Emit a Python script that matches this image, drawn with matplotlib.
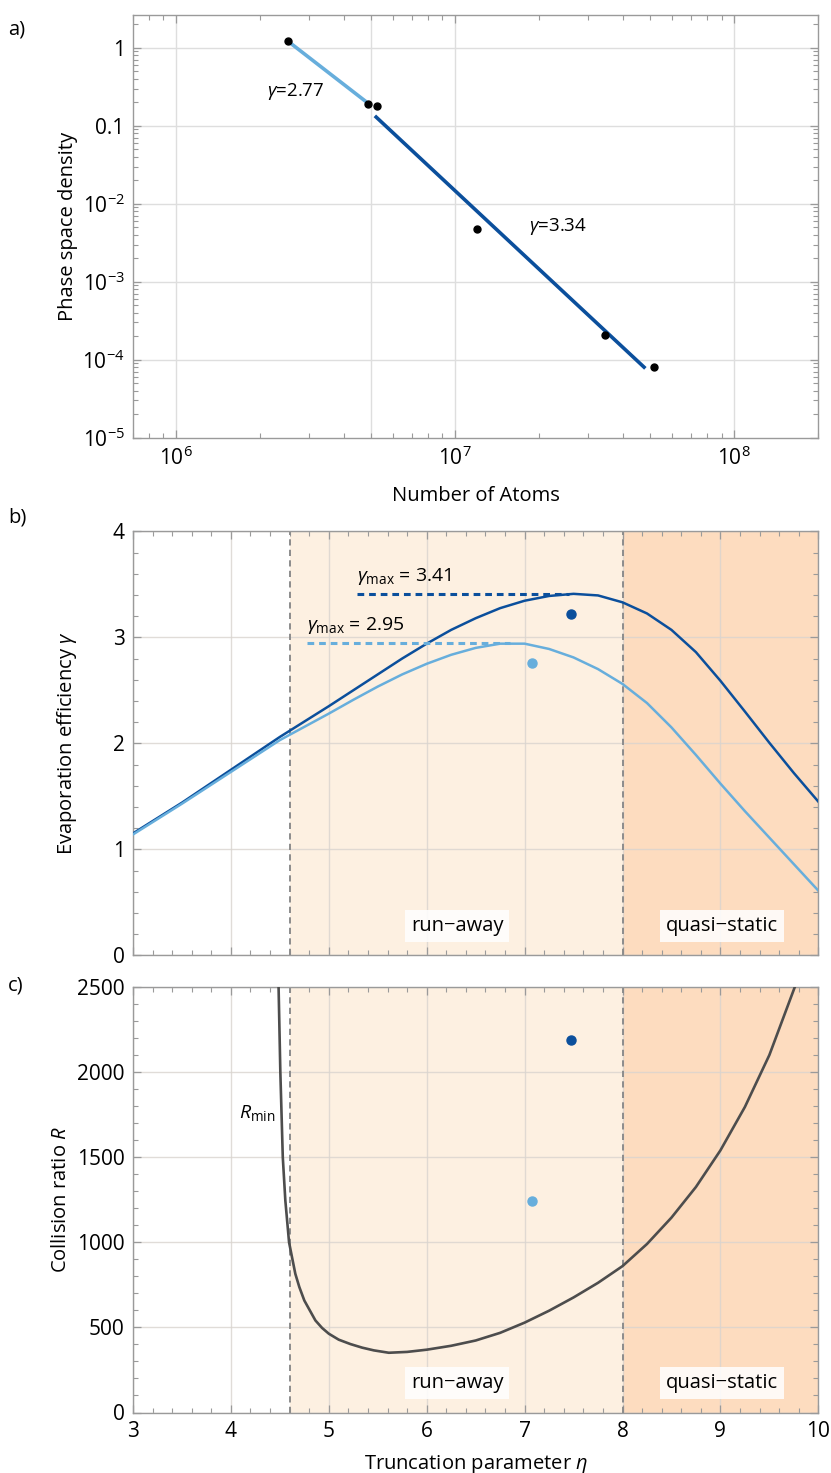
import numpy as np
import matplotlib
matplotlib.use('Agg')
import matplotlib.pyplot as plt
from matplotlib.ticker import FixedLocator, FixedFormatter, MultipleLocator, LogLocator, NullFormatter

plt.rcParams['font.family'] = ['Open Sans', 'DejaVu Sans']
plt.rcParams['mathtext.fontset'] = 'custom'
plt.rcParams['mathtext.rm'] = 'Open Sans'
plt.rcParams['mathtext.it'] = 'Open Sans:italic'
plt.rcParams['mathtext.bf'] = 'Open Sans:bold'
plt.rcParams['axes.unicode_minus'] = True

# ---- panel a: phase space density vs atom number
atoms = [2.52e6, 4.88e6, 5.25e6, 1.2e7, 3.44e7, 5.16e7]
psd = [1.22, 0.191, 0.178, 4.74e-3, 2.09e-4, 8.1e-5]
fit_gamma = [2.77, 3.34]
fit_points = [[0, 1], [2, 3, 4, 5]]          # which points belong to each fit
fit_range = [[2.55e6, 4.8e6], [5.15e6, 4.8e7]]
fit_label_pos = [[2.12e6, 0.273], [1.84e7, 5.07e-3]]

# ---- panel b: evaporation efficiency vs truncation parameter
eta_g = [3.0, 3.5, 4.0, 4.5, 5.0, 5.25, 5.5, 5.75, 6.0, 6.25, 6.5, 6.75, 7.0, 7.25,
         7.5, 7.75, 8.0, 8.25, 8.5, 8.75, 9.0, 9.25, 9.5, 9.75, 10.0]
gamma_dark = [1.15, 1.44, 1.75, 2.06, 2.35, 2.50, 2.65, 2.80, 2.94, 3.07, 3.18, 3.275, 3.345, 3.39,
              3.41, 3.395, 3.33, 3.225, 3.07, 2.86, 2.59, 2.30, 2.005, 1.72, 1.45]
gamma_light = [1.14, 1.43, 1.73, 2.03, 2.28, 2.41, 2.535, 2.65, 2.75, 2.835, 2.90, 2.94, 2.94, 2.89,
               2.81, 2.70, 2.56, 2.38, 2.15, 1.89, 1.62, 1.36, 1.11, 0.86, 0.61]
gamma_max = [3.41, 2.95]
gamma_max_eta = [7.45, 6.85]
gamma_max_start = [5.29, 4.78]
meas_eta = [7.47, 7.08]
meas_gamma = [3.22, 2.76]

# ---- panel c: collision ratio
eta_r = [4.487, 4.505, 4.53, 4.556, 4.594, 4.658, 4.699, 4.75, 4.863, 4.931, 5.0, 5.101, 5.221,
         5.341, 5.46, 5.613, 5.8, 6.0, 6.25, 6.5, 6.75, 7.0, 7.25, 7.5, 7.75, 8.0, 8.25, 8.5,
         8.75, 9.0, 9.25, 9.5, 9.76]
r_min = [2500, 2000, 1500, 1246, 1000, 815, 737, 658, 541, 497, 463, 428, 402,
         381, 365, 351, 356, 369, 392, 423, 468, 528, 598, 676, 762, 860, 990, 1145,
         1325, 1540, 1795, 2100, 2500]
meas_r = [2188, 1241]

eta_runaway = 4.6
eta_quasi = 8.0

dark = '#0b4f9c'
light = '#67aedc'
grey_line = '#4d4d4d'
c_run = '#fdf0e1'
c_quasi = '#fddcbf'
frame = '#9a9a9a'
gridc = '#dedede'

W, H = 831, 1473
fig = plt.figure(figsize=(W / 100, H / 100), dpi=100)
left = 133 / W
width = (818.3 - 133) / W


def box(top, bottom):
    return [left, 1 - bottom / H, width, (bottom - top) / H]


def style(ax):
    for s in ax.spines.values():
        s.set_color(frame)
        s.set_linewidth(1.0)
    ax.tick_params(which='both', direction='in', top=True, right=True, color=frame,
                   labelsize=15, pad=6)
    ax.tick_params(which='major', length=6, width=0.9)
    ax.tick_params(which='minor', length=3.5, width=0.8)


ax1 = fig.add_axes(box(15, 437.7))
ax2 = fig.add_axes(box(531.3, 955.3))
ax3 = fig.add_axes(box(987, 1412.5))

# panel a
ax1.set_xscale('log')
ax1.set_yscale('log')
ax1.set_xlim(7e5, 2e8)
ax1.set_ylim(1e-5, 2.63)
lx = np.log10(atoms)
ly = np.log10(psd)
for k, (g, idx, rng) in enumerate(zip(fit_gamma, fit_points, fit_range)):
    mx = lx[idx].mean()
    my = ly[idx].mean()
    xs = np.array(rng)
    ys = 10 ** (my - g * (np.log10(xs) - mx))
    ax1.plot(xs, ys, color=[light, dark][k], lw=2.6, solid_capstyle='butt', zorder=3)
    ax1.text(fit_label_pos[k][0], fit_label_pos[k][1], r'$\gamma$=%.2f' % g,
             fontsize=13.5, va='center', ha='left', zorder=4)
ax1.plot(atoms, psd, 'o', color='black', ms=5, zorder=5)
for v in [1e6, 5e6, 1e7, 1e8]:
    ax1.axvline(v, color=gridc, lw=1, zorder=0)
for v in [1, 0.1, 1e-2, 1e-3, 1e-4]:
    ax1.axhline(v, color=gridc, lw=1, zorder=0)
ax1.xaxis.set_major_locator(FixedLocator([1e6, 1e7, 1e8]))
ax1.xaxis.set_major_formatter(FixedFormatter([r'$10^{6}$', r'$10^{7}$', r'$10^{8}$']))
ax1.xaxis.set_minor_locator(LogLocator(base=10, subs=np.arange(2, 10), numticks=20))
ax1.xaxis.set_minor_formatter(NullFormatter())
yt = [1e-5, 1e-4, 1e-3, 1e-2, 0.1, 1]
ax1.yaxis.set_major_locator(FixedLocator(yt))
ax1.yaxis.set_major_formatter(FixedFormatter([r'$10^{-5}$', r'$10^{-4}$', r'$10^{-3}$',
                                              r'$10^{-2}$', '0.1', '1']))
ax1.yaxis.set_minor_locator(LogLocator(base=10, subs=np.arange(2, 10), numticks=20))
ax1.yaxis.set_minor_formatter(NullFormatter())
style(ax1)
ax1.set_xlabel('Number of Atoms', fontsize=14.5, labelpad=12)
ax1.set_ylabel('Phase space density', fontsize=14.5)
ax1.yaxis.set_label_coords(-0.08, 0.5)

# panels b and c: shared styling
for ax in (ax2, ax3):
    ax.set_xlim(3, 10)
    ax.axvspan(eta_runaway, eta_quasi, color=c_run, lw=0, zorder=0)
    ax.axvspan(eta_quasi, 10, color=c_quasi, lw=0, zorder=0)
    ax.set_axisbelow(True)
    ax.grid(True, which='major', color='#d9d4cf', lw=1, alpha=0.8)
    for v in (eta_runaway, eta_quasi):
        ax.axvline(v, color='#8c8c8c', lw=1.4, ls=(0, (3.2, 2.2)), zorder=2)
    ax.xaxis.set_major_locator(MultipleLocator(1))
    ax.xaxis.set_minor_locator(MultipleLocator(0.2))
    ax.text(6.31, 0.07, 'run\u2212away', transform=ax.get_xaxis_transform(), ha='center',
            va='center', fontsize=14.5, zorder=4,
            bbox=dict(boxstyle='square,pad=0.3', fc='white', ec='none', alpha=0.85))
    ax.text(9.02, 0.07, 'quasi\u2212static', transform=ax.get_xaxis_transform(), ha='center',
            va='center', fontsize=14.5, zorder=4,
            bbox=dict(boxstyle='square,pad=0.3', fc='white', ec='none', alpha=0.85))
    style(ax)

# panel b
ax2.set_ylim(0, 4)
ax2.yaxis.set_major_locator(MultipleLocator(1))
ax2.yaxis.set_minor_locator(MultipleLocator(0.2))
ax2.plot(eta_g, gamma_dark, color=dark, lw=1.8, solid_joinstyle='round', zorder=3)
ax2.plot(eta_g, gamma_light, color=light, lw=1.8, solid_joinstyle='round', zorder=3)
for k in range(2):
    col = [dark, light][k]
    ax2.plot([gamma_max_start[k], gamma_max_eta[k]], [gamma_max[k], gamma_max[k]], color=col,
             lw=2.2, ls=(0, (2.2, 1.6)), zorder=3)
    ax2.text(gamma_max_start[k], gamma_max[k] + 0.16, r'$\gamma_{\rm max}$ = %.2f' % gamma_max[k],
             fontsize=14, ha='left', va='center', zorder=4)
ax2.plot(meas_eta[0], meas_gamma[0], 'o', color=dark, ms=6.5, zorder=5)
ax2.plot(meas_eta[1], meas_gamma[1], 'o', color=light, ms=6.5, zorder=5)
ax2.tick_params(labelbottom=False)
ax2.set_ylabel(r'Evaporation efficiency $\gamma$', fontsize=14.5)
ax2.yaxis.set_label_coords(-0.079, 0.5)

# panel c
ax3.set_ylim(0, 2500)
ax3.yaxis.set_major_locator(MultipleLocator(500))
ax3.yaxis.set_minor_locator(MultipleLocator(100))
ax3.plot(eta_r, r_min, color=grey_line, lw=1.9, solid_joinstyle='round', zorder=3)
ax3.plot(meas_eta[0], meas_r[0], 'o', color=dark, ms=6.5, zorder=5)
ax3.plot(meas_eta[1], meas_r[1], 'o', color=light, ms=6.5, zorder=5)
ax3.text(4.46, 1760, r'$R_{\rm min}$', fontsize=14, ha='right', va='center', zorder=4)
ax3.set_xlabel(r'Truncation parameter $\eta$', fontsize=14.5, labelpad=8)
ax3.set_ylabel(r'Collision ratio $R$', fontsize=14.5)
ax3.yaxis.set_label_coords(-0.09, 0.5)

for lab, y in (('a)', 30), ('b)', 518), ('c)', 985)):
    fig.text(8 / W, 1 - y / H, lab, fontsize=14.5, ha='left', va='center')

fig.savefig('out.png', dpi=100)
